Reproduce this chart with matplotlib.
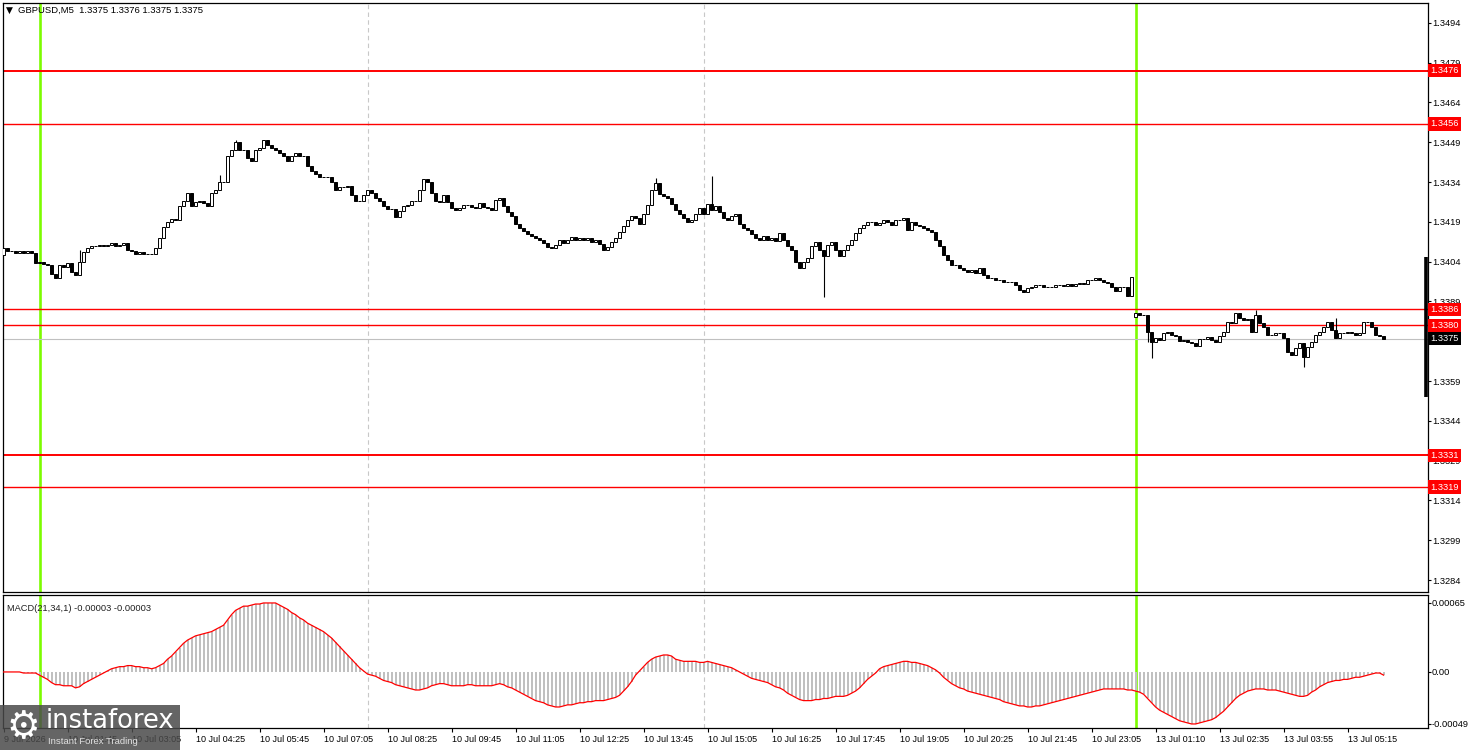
import numpy as np
import matplotlib
matplotlib.use("Agg")
import matplotlib.pyplot as plt
from matplotlib.patches import Rectangle

plt.rcParams["font.family"] = ["Liberation Sans", "DejaVu Sans"]

# ── GBPUSD M5 closes, bar 0 .. 345 ──────────────────────────────────────────
closes = [
    1.34090, 1.34080, 1.34080, 1.34074, 1.34080, 1.34072, 1.34080, 1.34072, 1.34035, 1.34040,
    1.34032, 1.34027, 1.33994, 1.33980, 1.34027, 1.34020, 1.34035, 1.34001, 1.33990, 1.34040,
    1.34077, 1.34090, 1.34100, 1.34100, 1.34103, 1.34098, 1.34103, 1.34110, 1.34100, 1.34103,
    1.34110, 1.34085, 1.34080, 1.34070, 1.34075, 1.34068, 1.34068, 1.34068, 1.34090, 1.34130,
    1.34170, 1.34190, 1.34200, 1.34197, 1.34250, 1.34270, 1.34300, 1.34250, 1.34265, 1.34270,
    1.34262, 1.34250, 1.34300, 1.34310, 1.34340, 1.34340, 1.34440, 1.34460, 1.34490, 1.34460,
    1.34460, 1.34430, 1.34420, 1.34460, 1.34470, 1.34500, 1.34480, 1.34470, 1.34460, 1.34450,
    1.34440, 1.34420, 1.34440, 1.34450, 1.34440, 1.34440, 1.34400, 1.34380, 1.34370, 1.34360,
    1.34360, 1.34360, 1.34340, 1.34310, 1.34320, 1.34320, 1.34325, 1.34290, 1.34270, 1.34270,
    1.34290, 1.34310, 1.34300, 1.34280, 1.34270, 1.34250, 1.34240, 1.34240, 1.34210, 1.34230,
    1.34250, 1.34255, 1.34270, 1.34270, 1.34310, 1.34350, 1.34340, 1.34300, 1.34270, 1.34265,
    1.34290, 1.34265,
    1.34242, 1.34235, 1.34242, 1.34254, 1.34254, 1.34246, 1.34242, 1.34261, 1.34246, 1.34242,
    1.34235, 1.34273, 1.34280, 1.34250, 1.34227, 1.34212, 1.34182, 1.34167, 1.34156, 1.34144,
    1.34137, 1.34129, 1.34122, 1.34110, 1.34095, 1.34092, 1.34103, 1.34122, 1.34110, 1.34122,
    1.34133, 1.34122, 1.34129, 1.34122, 1.34129, 1.34114, 1.34122, 1.34107, 1.34084, 1.34095,
    1.34114, 1.34129, 1.34152, 1.34174, 1.34197, 1.34212, 1.34205, 1.34182, 1.34220, 1.34254,
    1.34310, 1.34337, 1.34295, 1.34288, 1.34280, 1.34257, 1.34235, 1.34220, 1.34205, 1.34190,
    1.34197, 1.34220, 1.34242, 1.34220, 1.34257, 1.34235, 1.34250, 1.34227, 1.34205, 1.34197,
    1.34212, 1.34220, 1.34182, 1.34167, 1.34159, 1.34144, 1.34129, 1.34122, 1.34137, 1.34122,
    1.34129, 1.34118, 1.34148, 1.34122, 1.34099, 1.34084, 1.34039, 1.34016, 1.34039, 1.34054,
    1.34099, 1.34114, 1.34084, 1.34061, 1.34103, 1.34114, 1.34084, 1.34061, 1.34084, 1.34103,
    1.34122, 1.34148, 1.34167, 1.34178, 1.34190, 1.34190, 1.34178, 1.34186, 1.34197, 1.34190,
    1.34178, 1.34197, 1.34197, 1.34205, 1.34159, 1.34190, 1.34178, 1.34174, 1.34167, 1.34159,
    1.34152, 1.34122, 1.34099, 1.34065, 1.34046, 1.34027, 1.34027, 1.34016, 1.34009, 1.34001,
    1.34009, 1.33997, 1.34016, 1.33990, 1.33978, 1.33978, 1.33971, 1.33971, 1.33963, 1.33963,
    1.33963, 1.33952, 1.33933, 1.33926, 1.33941, 1.33944, 1.33952, 1.33952, 1.33944, 1.33944,
    1.33944, 1.33952, 1.33952, 1.33948, 1.33956, 1.33948, 1.33956, 1.33960, 1.33956, 1.33971,
    1.33971, 1.33978, 1.33971, 1.33963, 1.33960, 1.33944, 1.33929, 1.33944, 1.33944, 1.33911,
    1.33982,
    1.33847, 1.33839, 1.33839, 1.33775, 1.33737, 1.33752, 1.33744, 1.33771, 1.33775, 1.33763,
    1.33760, 1.33741, 1.33744, 1.33737, 1.33733, 1.33722, 1.33748, 1.33748, 1.33756, 1.33744,
    1.33737, 1.33760, 1.33775, 1.33813, 1.33809, 1.33847, 1.33828, 1.33820, 1.33824, 1.33775,
    1.33839, 1.33809, 1.33794, 1.33763, 1.33763, 1.33771, 1.33771, 1.33752, 1.33699, 1.33688,
    1.33714, 1.33733, 1.33680, 1.33718, 1.33737, 1.33763, 1.33775, 1.33794, 1.33813, 1.33782,
    1.33752, 1.33771, 1.33771, 1.33775, 1.33771, 1.33763, 1.33771, 1.33813, 1.33813, 1.33794,
    1.33763, 1.33760, 1.33748,
]
first_open = 1.34065
gap_opens = {283: 1.33831}          # Monday open after the weekend gap
wick_hi = {19: 1.34084, 54: 1.34367, 58: 1.34500, 163: 1.34355, 177: 1.34363,
           313: 1.33858, 333: 1.33828}
wick_lo = {205: 1.33907, 286: 1.33737, 287: 1.33677, 325: 1.33642}

# MACD(21,34,1), in units of 0.00001
macd_pts = [
    0, 0, 0, 0, 0, -1, -1, -1, -1, -3,
    -5, -7, -10, -12, -12, -13, -13, -13, -15, -14,
    -11, -9, -7, -5, -3, -1, 1, 3, 4, 5,
    5, 6, 6, 5, 5, 4, 4, 3, 4, 6,
    8, 12, 15, 19, 23, 27, 30, 32, 34, 35,
    36, 37, 38, 40, 42, 44, 49, 54, 58, 60,
    62, 62, 63, 64, 64, 65, 65, 65, 65, 63,
    61, 59, 56, 54, 51, 49, 46, 44, 42, 40,
    38, 35, 32, 28, 24, 20, 16, 12, 8, 4,
    1, -2, -3, -4, -6, -8, -9, -10, -12, -13,
    -14, -15, -16, -17, -17, -16, -15, -13, -12, -11,
    -11, -12, -13, -13, -13, -13, -12, -12, -13, -13,
    -13, -13, -13, -12, -11, -12, -14, -15, -17, -19,
    -21, -23, -25, -27, -28, -29, -31, -32, -33, -33,
    -32, -31, -31, -30, -29, -29, -28, -28, -27, -27,
    -27, -26, -25, -24, -22, -18, -14, -9, -3, 1,
    5, 9, 12, 14, 15, 16, 16, 15, 12, 11,
    10, 10, 10, 10, 9, 9, 10, 9, 8, 7,
    6, 5, 4, 2, 0, -2, -4, -6, -7, -8,
    -9, -10, -12, -14, -15, -17, -20, -22, -24, -26,
    -27, -27, -27, -26, -26, -25, -25, -24, -23, -23,
    -23, -22, -20, -18, -15, -11, -7, -4, -1, 3,
    5, 6, 7, 8, 9, 10, 10, 9, 9, 8,
    7, 6, 4, 2, -1, -5, -8, -11, -13, -15,
    -16, -18, -19, -20, -21, -22, -23, -24, -25, -26,
    -28, -29, -30, -31, -32, -32, -33, -33, -32, -32,
    -31, -30, -29, -28, -27, -26, -25, -24, -23, -22,
    -21, -20, -19, -18, -17, -16, -16, -16, -16, -16,
    -16, -17, -17, -18, -19, -21, -25, -29, -33, -36,
    -38, -40, -42, -44, -46, -47, -48, -49, -49, -48,
    -47, -46, -45, -43, -40, -37, -33, -29, -25, -22,
    -20, -18, -17, -16, -16, -16, -17, -17, -17, -18,
    -19, -20, -21, -22, -23, -23, -22, -19, -17, -14,
    -12, -10, -9, -8, -8, -7, -7, -6, -5, -5,
    -4, -3, -2, -1, -1, -3,
]

levels = [1.3476, 1.3456, 1.3386, 1.3380, 1.3331, 1.3319]
bid = 1.3375
day_bar = [1.33530, 1.34058]
green_bars = [9, 283]
sep_bars = [91, 175]
price_ticks = [1.3494, 1.3479, 1.3464, 1.3449, 1.3434, 1.3419, 1.3404, 1.3389,
               1.3374, 1.3359, 1.3344, 1.3329, 1.3314, 1.3299, 1.3284]
macd_ticks = [0.00065, 0.0, -0.00049]
macd_tick_labels = ["0.00065", "0.00", "-0.00049"]
time_labels = ["9 Jul 2026", "10 Jul 01:45", "10 Jul 03:05", "10 Jul 04:25",
               "10 Jul 05:45", "10 Jul 07:05", "10 Jul 08:25", "10 Jul 09:45",
               "10 Jul 11:05", "10 Jul 12:25", "10 Jul 13:45", "10 Jul 15:05",
               "10 Jul 16:25", "10 Jul 17:45", "10 Jul 19:05", "10 Jul 20:25",
               "10 Jul 21:45", "10 Jul 23:05", "13 Jul 01:10", "13 Jul 02:35",
               "13 Jul 03:55", "13 Jul 05:15"]
time_ticks = [16 * i for i in range(len(time_labels))]

# ── OHLC ─────────────────────────────────────────────────────────────────────
c = np.array(closes)
n = len(c)
idx = np.arange(n)
o = np.r_[first_open, c[:-1]]
for k, v in gap_opens.items():
    o[k] = v
hi = np.maximum(o, c)
lo = np.minimum(o, c)
for k, v in wick_hi.items():
    hi[k] = v
for k, v in wick_lo.items():
    lo[k] = v
up = c >= o
macd = np.array(macd_pts) * 1e-5

W, H = 1468, 750
fig = plt.figure(figsize=(W / 100, H / 100), dpi=100)
ax = fig.add_axes([2.5 / W, 1 - 592 / H, (1428 - 2.5) / W, 589 / H])
ax2 = fig.add_axes([2.5 / W, 1 - 728 / H, (1428 - 2.5) / W, 133 / H], sharex=ax)
XL = (-0.25, 356.1)
FS = 6.7

# ── price panel ──────────────────────────────────────────────────────────────
for k in green_bars:
    ax.axvline(k, color="#7CFC00", lw=1.9, zorder=1)
    ax2.axvline(k, color="#7CFC00", lw=1.9, zorder=1)
for k in sep_bars:
    ax.axvline(k, color="#c8c8c8", lw=0.8, ls=(0, (4, 3)), zorder=1)
    ax2.axvline(k, color="#c8c8c8", lw=0.8, ls=(0, (4, 3)), zorder=1)
for i, lv in enumerate(levels):
    ax.axhline(lv, color="red", lw=1.4 if i in (0, 4) else 1.0, zorder=2)
ax.axhline(bid, color="#c0c0c0", lw=0.8, zorder=2)

ax.vlines(idx, lo, hi, color="black", lw=0.8, zorder=3)
ax.bar(idx[up], (c - o)[up], bottom=o[up], width=0.6, facecolor="white",
       edgecolor="black", lw=0.7, zorder=4)
ax.bar(idx[~up], (c - o)[~up], bottom=o[~up], width=0.6, facecolor="black",
       edgecolor="black", lw=0.7, zorder=4)
ax.plot([355.5, 355.5], day_bar, color="black", lw=2.6, solid_capstyle="butt", zorder=5)

ax.set_xlim(*XL)
ax.set_ylim(1.32795, 1.35015)
ax.yaxis.tick_right()
ax.set_yticks(price_ticks)
# 1.3374 sits fully under the bid box, so its text is left out
ax.set_yticklabels(["" if v == 1.3374 else f"{v:.4f}" for v in price_ticks])
ax.tick_params(axis="y", length=2.2, width=0.8, pad=1.2, labelsize=FS, colors="black")
ax.tick_params(axis="x", bottom=False, labelbottom=False)
for s in ax.spines.values():
    s.set_linewidth(0.9)

tr = ax.get_yaxis_transform()
for lv in levels:
    ax.text(1.0015, lv, f"{lv:.4f}", transform=tr, ha="left", va="center", fontsize=FS,
            color="white", zorder=6, clip_on=False,
            bbox=dict(boxstyle="square,pad=0.25", fc="red", ec="none"))
ax.text(1.0015, bid, f"{bid:.4f}", transform=tr, ha="left", va="center", fontsize=FS,
        color="white", zorder=6, clip_on=False,
        bbox=dict(boxstyle="square,pad=0.25", fc="black", ec="none"))

ax.text(0.0025, 0.988, "\u25BC", transform=ax.transAxes, fontsize=6.5, va="center",
        family="DejaVu Sans")
ax.text(0.011, 0.988, "GBPUSD,M5  1.3375 1.3376 1.3375 1.3375", transform=ax.transAxes,
        fontsize=6.8, va="center")

# ── MACD panel ───────────────────────────────────────────────────────────────
ax2.bar(idx, macd, width=0.5, color="#c0c0c0", zorder=2)
ax2.plot(idx, macd, color="red", lw=0.9, zorder=3)
ax2.set_xlim(*XL)
ax2.set_ylim(-0.000528, 0.000725)
ax2.yaxis.tick_right()
ax2.set_yticks(macd_ticks)
ax2.set_yticklabels(macd_tick_labels)
ax2.tick_params(axis="y", length=2.0, width=0.8, pad=0.8, labelsize=FS)
ax2.set_xticks(time_ticks)
ax2.set_xticklabels(time_labels)
ax2.tick_params(axis="x", length=3, width=0.8, pad=2, labelsize=6.5)
for t in ax2.get_xticklabels():
    t.set_ha("left")
for s in ax2.spines.values():
    s.set_linewidth(0.9)
ax2.text(0.003, 0.9, "MACD(21,34,1) -0.00003 -0.00003", transform=ax2.transAxes,
         fontsize=6.7, va="center", color="#202020")

# ── watermark ────────────────────────────────────────────────────────────────
fig.add_artist(Rectangle((0, 0), 180 / W, 45 / H, transform=fig.transFigure,
                         fc="#4a4a4a", ec="none", alpha=0.85, zorder=10))
fig.text(6 / W, 22 / H, "\u2699", fontsize=27, color="white", va="center",
         family="DejaVu Sans", zorder=11)
fig.text(46 / W, 29 / H, "instaforex", fontsize=18.5, color="white", va="center",
         family="DejaVu Sans", zorder=11)
fig.text(48 / W, 9 / H, "Instant Forex Trading", fontsize=6.8, color="#e0e0e0",
         va="center", zorder=11)

fig.savefig("out.png", dpi=100)
